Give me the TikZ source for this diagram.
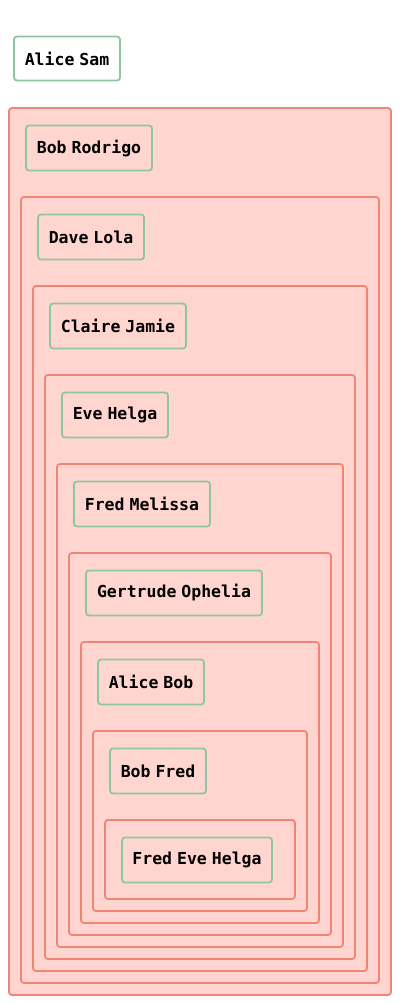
\documentclass[tikz,border=0pt]{standalone}
\usepackage{fontspec}
\setmonofont[WordSpace=0.5]{DejaVu Sans Mono}
\definecolor{clfill}{RGB}{255,213,207}
\definecolor{cldraw}{RGB}{240,132,118}
\definecolor{nddraw}{RGB}{143,196,164}
\tikzset{
  person/.style={rectangle,draw=nddraw,line width=1.8pt,rounded corners=3pt,inner sep=0pt,
    minimum height=45pt,font=\ttfamily\bfseries\fontsize{16.5}{19}\selectfont},
  cluster/.style={draw=cldraw,fill=clfill,line width=1.8pt,rounded corners=3pt}
}
\begin{document}
\begin{tikzpicture}[x=1pt,y=-1pt]
\useasboundingbox (0,0) rectangle (400,1004);
\draw [cluster] (9,108) rectangle (391,995);
\draw [cluster] (21,197) rectangle (379,983);
\draw [cluster] (33,286) rectangle (367,971);
\draw [cluster] (45,375) rectangle (355,959);
\draw [cluster] (57,464) rectangle (343,947);
\draw [cluster] (69,553) rectangle (331,935);
\draw [cluster] (81,642) rectangle (319,923);
\draw [cluster] (93,731) rectangle (307,911);
\draw [cluster] (105,820) rectangle (295,899);

\node (as) [person,fill=white,minimum width=106pt,minimum height=44pt] at (67,58.5) {Alice Sam};
\node (br) [person,minimum width=126pt] at (89,148) {Bob Rodrigo};
\node (dl) [person,minimum width=106pt] at (91,237) {Dave Lola};
\node (cj) [person,minimum width=136pt] at (118,326) {Claire Jamie};
\node (eh) [person,minimum width=106pt] at (115,415) {Eve Helga};
\node (fm) [person,minimum width=136pt] at (142,504) {Fred Melissa};
\node (go) [person,minimum width=176pt] at (174,593) {Gertrude Ophelia};
\node (ab) [person,minimum width=106pt] at (151,682) {Alice Bob};
\node (bf) [person,minimum width=96pt] at (158,771) {Bob Fred};
\node (feh) [person,minimum width=150pt] at (197,860) {Fred Eve Helga};
\end{tikzpicture}
\end{document}
